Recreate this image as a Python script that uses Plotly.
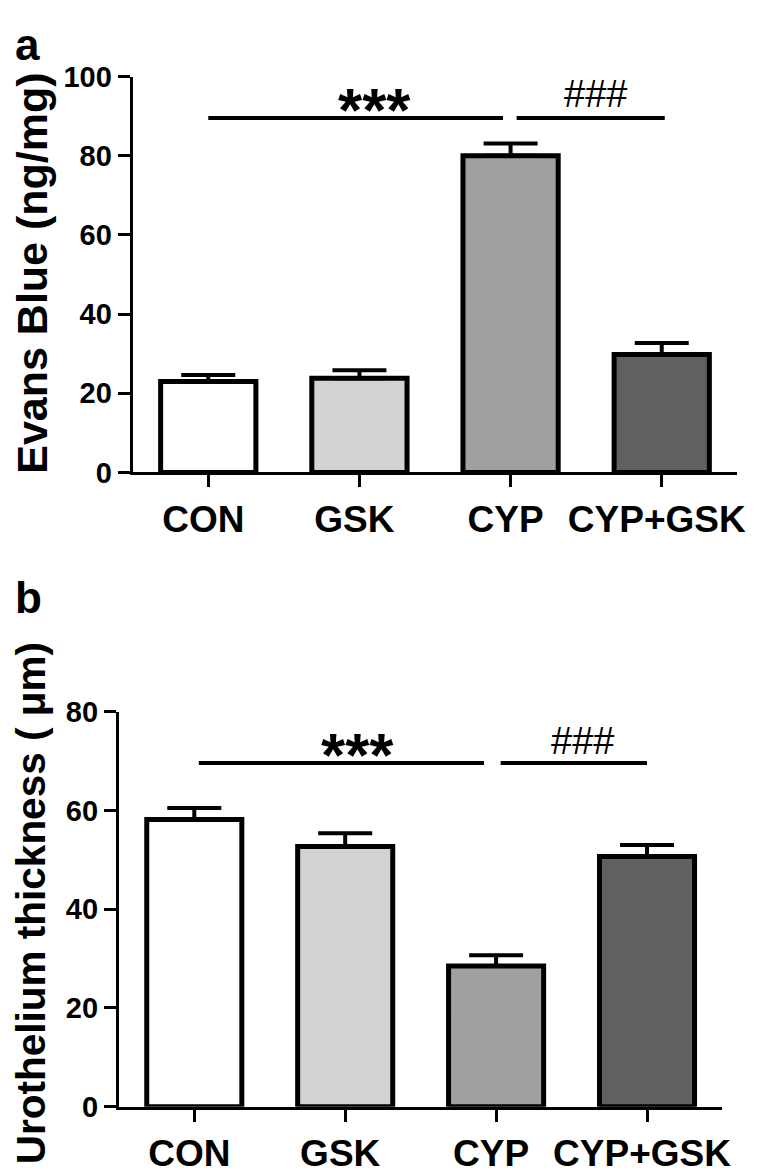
import plotly.graph_objects as go

W, H = 767, 1176
FONT = "Liberation Sans, Arial, sans-serif"

categories = ["CON", "GSK", "CYP", "CYP+GSK"]
bar_colors = ["#ffffff", "#d3d3d3", "#a0a0a0", "#606060"]

# Panel a: Evans Blue (ng/mg)
evans_mean = [23.0, 23.8, 80.0, 29.8]
evans_sem = [1.6, 2.0, 3.1, 2.9]
# Panel b: Urothelium thickness (um)
uro_mean = [58.2, 52.7, 28.5, 50.7]
uro_sem = [2.3, 2.7, 2.2, 2.3]

# significance brackets: (x0, x1, y, label, label_x, label_y)
sig_a = [(0.0, 1.95, 89.5, "***", 1.10, 93.9), (2.04, 3.02, 89.5, "###", 2.56, 95.6)]
sig_b = [(0.03, 1.92, 69.6, "***", 1.08, 73.1), (2.03, 3.0, 69.6, "###", 2.57, 74.1)]


def px_x(p):
    return p / W


def px_y(p):
    return 1 - p / H


fig = go.Figure()

for mean, sem, xa, ya in [(evans_mean, evans_sem, "x", "y"), (uro_mean, uro_sem, "x2", "y2")]:
    fig.add_trace(go.Bar(
        x=categories, y=mean, width=0.63,
        marker=dict(color=bar_colors, line=dict(color="black", width=5)),
        error_y=dict(type="data", array=sem, arrayminus=[0] * len(sem), symmetric=False,
                     thickness=4, width=27, color="black"),
        xaxis=xa, yaxis=ya, showlegend=False, hoverinfo="skip",
    ))

axis_common = dict(showline=True, linewidth=3, linecolor="black", ticks="outside",
                   ticklen=12, tickwidth=3, tickcolor="black", showgrid=False,
                   zeroline=False)

fig.update_layout(
    width=W, height=H, margin=dict(l=0, r=0, t=0, b=0),
    paper_bgcolor="white", plot_bgcolor="white",
    font=dict(family=FONT, color="black"),
    xaxis=dict(domain=[px_x(126), px_x(737)], anchor="y", type="category",
               categoryarray=categories, range=[-0.5, 3.5], ticklabelshift=-5,
               tickfont=dict(size=37, family=FONT, weight="bold"), **axis_common),
    yaxis=dict(domain=[px_y(461), px_y(54)], anchor="x", range=[0, 100],
               tickvals=[0, 20, 40, 60, 80, 100],
               tickfont=dict(size=29, family=FONT, weight="bold"), **axis_common),
    xaxis2=dict(domain=[px_x(112), px_x(722)], anchor="y2", type="category",
                categoryarray=categories, range=[-0.5, 3.5], ticklabelshift=-5,
                tickfont=dict(size=37, family=FONT, weight="bold"), **axis_common),
    yaxis2=dict(domain=[px_y(1113), px_y(707)], anchor="x2", range=[0, 80],
                tickvals=[0, 20, 40, 60, 80],
                tickfont=dict(size=29, family=FONT, weight="bold"), **axis_common),
)

shapes = []
annotations = []
for sig, xr, yr in [(sig_a, "x", "y"), (sig_b, "x2", "y2")]:
    for x0, x1, yv, lab, lx, ly in sig:
        shapes.append(dict(type="line", xref=xr, yref=yr, x0=x0, x1=x1, y0=yv, y1=yv,
                           line=dict(color="black", width=4)))
        if lab == "***":
            annotations.append(dict(xref=xr, yref=yr, x=lx, y=ly, text=lab, showarrow=False,
                                    font=dict(size=62, family=FONT, weight="bold"),
                                    yanchor="middle", xanchor="center", yshift=-9))
        else:
            annotations.append(dict(xref=xr, yref=yr, x=lx, y=ly, text=lab, showarrow=False,
                                    font=dict(size=38, family=FONT),
                                    yanchor="middle", xanchor="center"))

# panel letters
annotations.append(dict(xref="paper", yref="paper", x=px_x(5), y=px_y(-6), text="<b>a</b>",
                        showarrow=False, xanchor="left", yanchor="top",
                        font=dict(size=44, family=FONT)))
annotations.append(dict(xref="paper", yref="paper", x=px_x(5), y=px_y(562), text="<b>b</b>",
                        showarrow=False, xanchor="left", yanchor="top",
                        font=dict(size=44, family=FONT)))
# y-axis titles
annotations.append(dict(xref="paper", yref="paper", x=px_x(24), y=px_y(256),
                        text="<b>Evans Blue (ng/mg)</b>", textangle=-90, showarrow=False,
                        xanchor="center", yanchor="middle", font=dict(size=43, family=FONT)))
annotations.append(dict(xref="paper", yref="paper", x=px_x(24), y=px_y(904),
                        text="<b>Urothelium thickness ( \u03bcm)</b>", textangle=-90,
                        showarrow=False, xanchor="center", yanchor="middle",
                        font=dict(size=40.5, family=FONT)))

fig.update_layout(shapes=shapes, annotations=annotations)
fig.write_html("out.html")
